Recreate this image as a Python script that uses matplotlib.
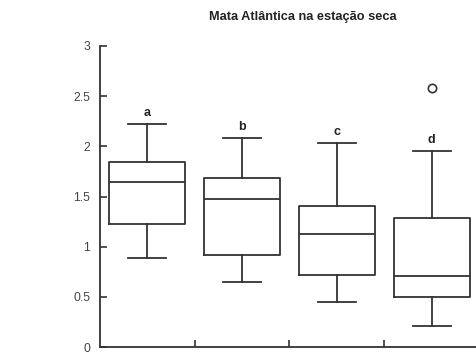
import numpy as np
import matplotlib.pyplot as plt

plt.rcParams['font.family'] = ['Liberation Sans', 'DejaVu Sans']

# five-number summaries read per group (whisker low, Q1, median, Q3, whisker high)
whislo = [0.89, 0.645, 0.45, 0.21]
q1 = [1.23, 0.92, 0.72, 0.50]
med = [1.64, 1.48, 1.13, 0.71]
q3 = [1.84, 1.68, 1.41, 1.29]
whishi = [2.22, 2.08, 2.03, 1.95]
fliers = [[], [], [], [2.58]]
letras = ['a', 'b', 'c', 'd']
titulo = 'Mata Atlântica na estação seca'

stats = []
for i in range(len(med)):
    stats.append({'whislo': whislo[i], 'q1': q1[i], 'med': med[i],
                  'q3': q3[i], 'whishi': whishi[i], 'fliers': fliers[i]})

cor = '#333333'
fig = plt.figure(figsize=(4.77, 3.53), dpi=100)
ax = fig.add_axes([100 / 477, 6 / 353, 379 / 477, 301 / 353])

ax.bxp(stats, positions=[1, 2, 3, 4], widths=0.8, showfliers=True,
       boxprops=dict(color=cor, linewidth=1.3),
       medianprops=dict(color=cor, linewidth=1.3),
       whiskerprops=dict(color=cor, linewidth=1.3),
       capprops=dict(color=cor, linewidth=1.3),
       flierprops=dict(marker='o', markerfacecolor='white', markeredgecolor=cor,
                       markersize=6, markeredgewidth=1.2))

for i, letra in enumerate(letras):
    ax.annotate(letra, (i + 1, whishi[i]), xytext=(0, 8), textcoords='offset points',
                ha='center', va='center', fontsize=9, fontweight='bold', color='#222222')

ax.set_xlim(0.5, 4.5)
ax.set_ylim(0, 3)
ax.set_yticks([0, 0.5, 1, 1.5, 2, 2.5, 3])
ax.set_yticklabels(['0', '0.5', '1', '1.5', '2', '2.5', '3'])
ax.set_xticks([1.5, 2.5, 3.5])
ax.set_xticklabels([])
ax.tick_params(axis='y', direction='in', length=5, width=1.2, color=cor,
               labelsize=8.8, labelcolor='#444444', pad=7)
ax.tick_params(axis='x', direction='in', length=5, width=1.2, color=cor)
for s in ['top', 'right']:
    ax.spines[s].set_visible(False)
for s in ['left', 'bottom']:
    ax.spines[s].set_color(cor)
    ax.spines[s].set_linewidth(1.3)
ax.spines['left'].set_bounds(0, 3)

fig.text(303 / 477, 1 - 17 / 353, titulo, ha='center', va='center',
         fontsize=9.2, fontweight='bold', color='#222222')

fig.savefig('out.png', dpi=100)
